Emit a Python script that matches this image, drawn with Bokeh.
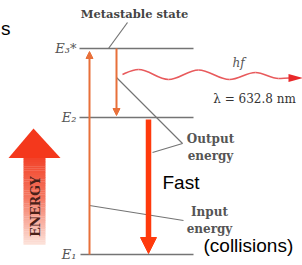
import math
from bokeh.plotting import figure
from bokeh.models import Range1d, Arrow, NormalHead, Label
from bokeh.embed import file_html
from bokeh.resources import INLINE

# ---------------- data (diagram units: x right, y down, in px of the picture) ----
level_labels = ["E\u2081", "E\u2082", "E\u2083*"]
level_y = [254, 117, 48]
level_x_start = [80, 79, 79]
level_x_end = [193, 193, 193]

# transitions: pump (up), decay to E2, fast collisional drop to E1
trans_x = [89, 116, 148]
trans_y_from = [254, 48, 119]
trans_y_to = [51, 115, 253]

# leader lines
meta_leader_x = [127, 108]
meta_leader_y = [22, 48]
output_leader_x = [116, 182, 152]
output_leader_y = [77, 143, 152]
input_leader_x = [89, 183]
input_leader_y = [205, 220]

# photon wave: extrema
wave_x = [122, 138, 168, 198, 229, 255, 278, 289]
wave_y = [74, 69, 79, 69.5, 79, 72, 78, 77.5]
wave_tip_x = 302

# energy arrow gradient stops (position along shaft 0..1, rgb)
energy_stops = [(0.0, (242, 66, 40)), (0.45, (244, 118, 96)), (1.0, (252, 226, 218))]

# ---------------- figure ----------------
p = figure(width=302, height=265, x_range=Range1d(0, 302), y_range=Range1d(265, 0),
           output_backend="svg", toolbar_location=None, min_border=0,
           x_axis_location=None, y_axis_location=None)
p.grid.visible = False
p.outline_line_color = None
p.background_fill_color = "white"
p.border_fill_color = "white"

GRAY = "#747474"
ORANGE = "#e8703a"
RED = "#ff3a0c"
WAVE = "#e85a5c"
TXT = "#4a4a4a"

# ENERGY big arrow (gradient shaft as strips)
shaft_top, shaft_bot, shaft_l, shaft_r = 157, 244, 23, 45
n = 40
def interp(t):
    for (t0, c0), (t1, c1) in zip(energy_stops[:-1], energy_stops[1:]):
        if t <= t1:
            f = (t - t0) / (t1 - t0)
            return "#%02x%02x%02x" % tuple(int(round(a + (b - a) * f)) for a, b in zip(c0, c1))
    return "#%02x%02x%02x" % energy_stops[-1][1]
tops, bots, cols = [], [], []
for i in range(n):
    y0 = shaft_top + (shaft_bot - shaft_top) * i / n
    y1 = shaft_top + (shaft_bot - shaft_top) * (i + 1) / n
    tops.append(y0); bots.append(y1 + 0.3); cols.append(interp((i + 0.5) / n))
p.quad(left=shaft_l, right=shaft_r, top=tops, bottom=bots, fill_color=cols, line_color=None)
p.patch([8, 33, 60], [157.5, 128, 157.5], fill_color="#f4381c", line_color=None)
p.add_layout(Label(x=35, y=206, text="ENERGY", angle=math.pi / 2, text_align="center",
                   text_baseline="middle", text_font="DejaVu Serif", text_font_style="bold",
                   text_font_size="12.5px", text_color="#4a2018"))

# energy levels
p.segment(x0=level_x_start, y0=level_y, x1=level_x_end, y1=level_y, line_color=GRAY, line_width=1.6)
for lab, y in zip(level_labels, level_y):
    p.add_layout(Label(x=76, y=y, text=lab, text_align="right", text_baseline="middle",
                       text_font="DejaVu Serif", text_font_style="italic",
                       text_font_size="13px", text_color="#555555"))

# leader lines
p.line(meta_leader_x, meta_leader_y, line_color=GRAY, line_width=1.2)
p.line(output_leader_x, output_leader_y, line_color=GRAY, line_width=1.2)
p.line(input_leader_x, input_leader_y, line_color=GRAY, line_width=1.2)

# transitions
for i, (x, y0, y1) in enumerate(zip(trans_x, trans_y_from, trans_y_to)):
    if i < 2:
        p.add_layout(Arrow(x_start=x, y_start=y0, x_end=x, y_end=y1, line_color=ORANGE, line_width=2,
                           end=NormalHead(size=7, fill_color=ORANGE, line_color=ORANGE, line_width=1)))
    else:
        p.add_layout(Arrow(x_start=x, y_start=y0, x_end=x, y_end=y1, line_color=RED, line_width=5.5,
                           end=NormalHead(size=16, fill_color=RED, line_color=RED, line_width=1)))

# photon wave (cubic beziers between extrema with flat tangents)
x0s, y0s, x1s, y1s, c0x, c0y, c1x, c1y = [], [], [], [], [], [], [], []
for (xa, ya), (xb, yb) in zip(zip(wave_x[:-1], wave_y[:-1]), zip(wave_x[1:], wave_y[1:])):
    dx = xb - xa
    x0s.append(xa); y0s.append(ya); x1s.append(xb); y1s.append(yb)
    c0x.append(xa + 0.36 * dx); c0y.append(ya)
    c1x.append(xb - 0.36 * dx); c1y.append(yb)
c0y[0] = wave_y[0] - 2.5
p.bezier(x0=x0s, y0=y0s, x1=x1s, y1=y1s, cx0=c0x, cy0=c0y, cx1=c1x, cy1=c1y,
         line_color=WAVE, line_width=1.6)
p.patch([wave_x[-1] - 1, wave_tip_x, wave_x[-1] - 1],
        [wave_y[-1] - 4, wave_y[-1], wave_y[-1] + 4], fill_color="#e8282a", line_color=None)

# texts
def serif(x, y, t, size="12px", style="bold", color=TXT, align="center"):
    p.add_layout(Label(x=x, y=y, text=t, text_align=align, text_baseline="middle",
                       text_font="DejaVu Serif", text_font_style=style,
                       text_font_size=size, text_color=color))

serif(134, 13, "Metastable state", size="11.5px", color="#444444")
serif(238, 62, "hf", size="12px", style="italic", color="#555555")
serif(254, 98, "\u03bb = 632.8 nm", size="12px", style="normal", color="#333333")
serif(210, 138, "Output", size="12px", color="#555555")
serif(210, 155, "energy", size="12px", color="#555555")
serif(209, 211, "Input", size="12px", color="#555555")
serif(209, 228, "energy", size="12px", color="#555555")

def sans(x, y, t, align="left"):
    p.add_layout(Label(x=x, y=y, text=t, text_align=align, text_baseline="middle",
                       text_font="Liberation Sans", text_font_size="19px", text_color="black"))

sans(162, 182, "Fast")
sans(203, 245, "(collisions)")
sans(0.5, 28, "s")

open("out.html", "w").write(file_html(p, INLINE))
